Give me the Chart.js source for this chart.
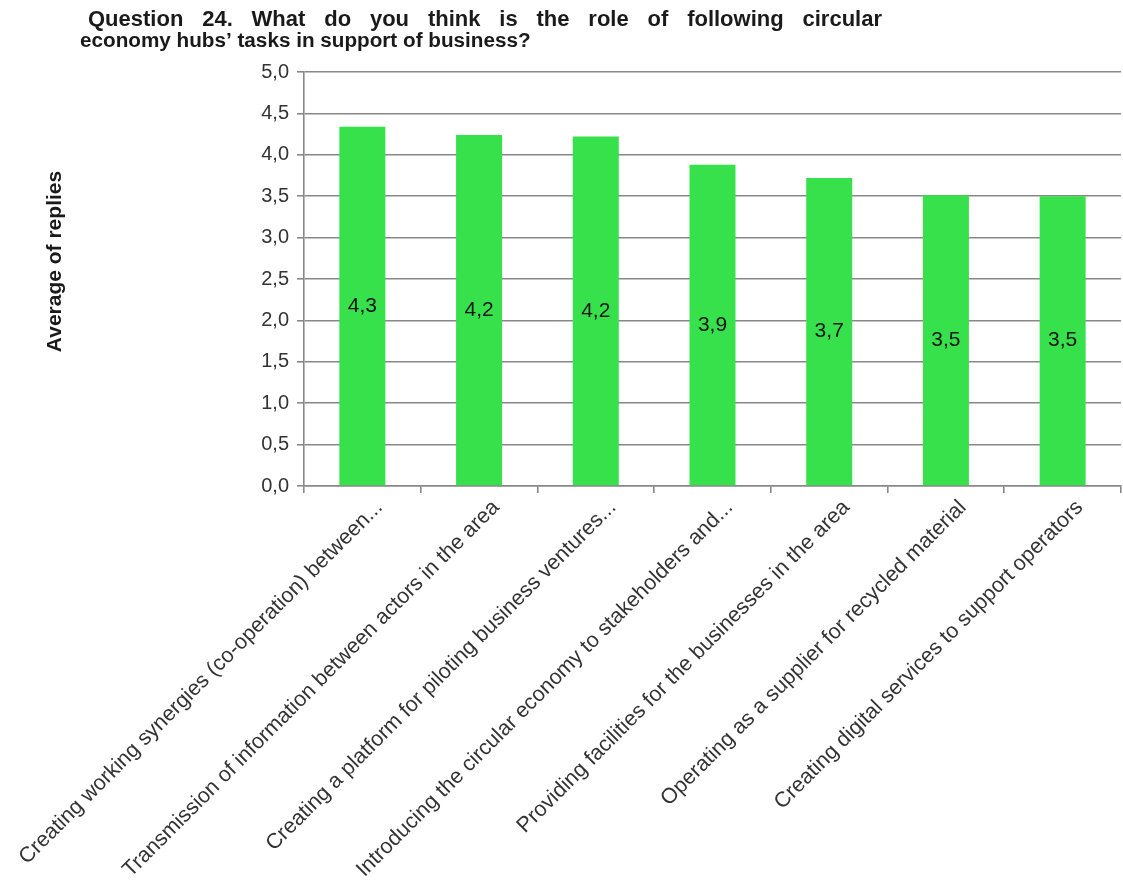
<!DOCTYPE html>
<html>
<head>
<meta charset="utf-8">
<script src="https://cdn.jsdelivr.net/npm/chart.js@4/dist/chart.umd.min.js"></script>
<style>
    html, body { margin: 0; padding: 0; background: #fff; }
    #wrap { width: 1123px; height: 888px; position: relative; }
</style>
</head>
<body>
<div id="wrap"><canvas id="hubChart"></canvas></div>
<script>
// ==================== DATA ====================
const titleLines = [
    'Question 24. What do you think is the role of following circular',
    'economy hubs\u2019 tasks in support of business?'
];
const yAxisTitle = 'Average of replies';
const categories = [
    'Creating working synergies (co-operation) between...',
    'Transmission of information between actors in the area',
    'Creating a platform for piloting business ventures...',
    'Introducing the circular economy to stakeholders and...',
    'Providing facilities for the businesses in the area',
    'Operating as a supplier for recycled material',
    'Creating digital services to support operators'
];
const averages = [4.34, 4.24, 4.22, 3.88, 3.72, 3.51, 3.50];
const yMin = 0;
const yMax = 5;
const yStep = 0.5;

// comma as decimal mark, like the original sheet
const fmt = v => Number(v).toFixed(1).replace('.', ',');
const FONT = '"Liberation Sans", Arial, sans-serif';
const PAD_LEFT = 43;

// ==================== PLUGINS ====================
// two-line title; the first line is spread out to its full width as in the source
const sheetTitle = {
    id: 'sheetTitle',
    afterDraw(chart) {
        const ctx = chart.ctx;
        ctx.save();
        ctx.fillStyle = '#1a1a1a';
        ctx.textBaseline = 'alphabetic';
        ctx.textAlign = 'left';

        // line 1: slack goes into the word gaps
        ctx.font = 'bold 22px ' + FONT;
        const words = titleLines[0].split(' ');
        const widths = words.map(w => ctx.measureText(w).width);
        const total = widths.reduce((a, b) => a + b, 0);
        const gap = (882 - 88 - total) / (words.length - 1);
        let x = 88;
        words.forEach((w, i) => {
            ctx.fillText(w, x, 26);
            x += widths[i] + gap;
        });

        // line 2: plain
        ctx.font = 'bold 20.7px ' + FONT;
        ctx.fillText(titleLines[1], 80, 47);
        ctx.restore();
    }
};

// value labels in the middle of each bar
const barValueLabels = {
    id: 'barValueLabels',
    afterDatasetsDraw(chart) {
        const ctx = chart.ctx;
        const meta = chart.getDatasetMeta(0);
        ctx.save();
        ctx.font = '21px ' + FONT;
        ctx.fillStyle = '#141414';
        ctx.textAlign = 'center';
        ctx.textBaseline = 'middle';
        meta.data.forEach((bar, i) => {
            const mid = (bar.y + bar.base) / 2;
            ctx.fillText(fmt(chart.data.datasets[0].data[i]), bar.x, mid);
        });
        ctx.restore();
    }
};

// ==================== CHART ====================
const ctx = document.getElementById('hubChart').getContext('2d');
new Chart(ctx, {
    type: 'bar',
    data: {
        labels: categories,
        datasets: [{
            label: 'Average',
            data: averages,
            backgroundColor: '#37e14b',
            borderWidth: 0,
            categoryPercentage: 1,
            barPercentage: 0.394
        }]
    },
    options: {
        responsive: true,
        maintainAspectRatio: false,
        animation: false,
        layout: { padding: { left: PAD_LEFT, right: 2, top: 72, bottom: 0 } },
        plugins: {
            legend: { display: false },
            tooltip: { enabled: false },
            title: { display: false }
        },
        scales: {
            y: {
                min: yMin,
                max: yMax,
                afterFit: scale => { scale.width = 304 - PAD_LEFT; },
                title: {
                    display: true,
                    // leading spaces lift the centred text a little, as in the source
                    text: '      ' + yAxisTitle,
                    color: '#1a1a1a',
                    font: { family: FONT, size: 21, weight: 'bold' },
                    padding: { top: 0, bottom: 0 }
                },
                grid: {
                    color: '#888',
                    lineWidth: 1.6,
                    tickLength: 7,
                    drawTicks: true
                },
                border: { color: '#888', width: 1.6 },
                ticks: {
                    stepSize: yStep,
                    color: '#333',
                    padding: 8,
                    font: { family: FONT, size: 20 },
                    callback: v => fmt(v)
                }
            },
            x: {
                afterFit: scale => {
                    scale.height = 888 - 486;
                    scale.paddingLeft = 0;
                    scale.paddingRight = 0;
                },
                grid: {
                    display: true,
                    drawOnChartArea: false,
                    drawTicks: true,
                    tickLength: 7,
                    color: '#888',
                    lineWidth: 1.6
                },
                border: { color: '#888', width: 1.6 },
                ticks: {
                    autoSkip: false,
                    minRotation: 45,
                    maxRotation: 45,
                    labelOffset: 17,
                    padding: 2,
                    color: '#333',
                    font: { family: FONT, size: 21.5 }
                }
            }
        }
    },
    plugins: [sheetTitle, barValueLabels]
});
</script>
</body>
</html>
